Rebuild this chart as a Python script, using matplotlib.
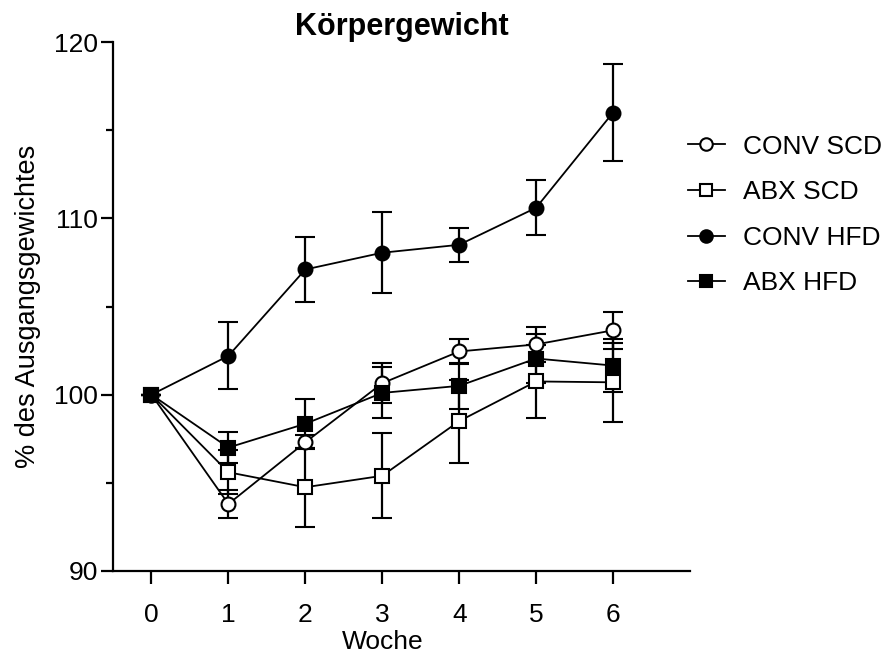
import numpy as np
import matplotlib
matplotlib.use('Agg')
import matplotlib.pyplot as plt
from matplotlib.lines import Line2D

plt.rcParams['font.family'] = ['Liberation Sans', 'DejaVu Sans']

weeks = [0, 1, 2, 3, 4, 5, 6]

conv_scd = [100, 93.8, 97.3, 100.65, 102.45, 102.85, 103.65]
conv_scd_err = [0, 0.8, 0.4, 1.15, 0.7, 1.0, 1.05]
abx_scd = [100, 95.6, 94.75, 95.4, 98.5, 100.75, 100.7]
abx_scd_err = [0, 1.25, 2.25, 2.4, 2.35, 2.05, 2.25]
conv_hfd = [100, 102.2, 107.1, 108.05, 108.5, 110.6, 116.0]
conv_hfd_err = [0, 1.9, 1.85, 2.3, 0.95, 1.55, 2.75]
abx_hfd = [100, 97.0, 98.35, 100.1, 100.5, 102.05, 101.65]
abx_hfd_err = [0, 0.9, 1.4, 1.45, 1.3, 1.4, 1.5]

labels = ['CONV SCD', 'ABX SCD', 'CONV HFD', 'ABX HFD']

fig = plt.figure(figsize=(8.87, 6.57), dpi=100)
ax = fig.add_axes([113/887, 1 - 571/657, (690-113)/887, (571-42)/657])

series = [
    (conv_scd, conv_scd_err, 'o', 'white'),
    (abx_scd, abx_scd_err, 's', 'white'),
    (conv_hfd, conv_hfd_err, 'o', 'black'),
    (abx_hfd, abx_hfd_err, 's', 'black'),
]

handles = []
for (vals, err, m, fc), lab in zip(series, labels):
    ax.errorbar(weeks, vals, yerr=err, color='black', lw=1.3, marker=m,
                markersize=10, markerfacecolor=fc, markeredgecolor='black',
                markeredgewidth=1.5, elinewidth=1.6, capsize=7, capthick=1.6)
    handles.append(Line2D([], [], color='black', lw=1.3, marker=m,
                          markersize=9, markerfacecolor=fc,
                          markeredgecolor='black', markeredgewidth=1.5,
                          label=lab))

ax.set_xlim(-0.5, 7)
ax.set_ylim(90, 120)
ax.set_xticks(weeks)
ax.set_yticks([90, 100, 110, 120])
ax.set_yticks([95, 105, 115], minor=True)
ax.spines['top'].set_visible(False)
ax.spines['right'].set_visible(False)
for s in ['left', 'bottom']:
    ax.spines[s].set_linewidth(1.6)
ax.tick_params(axis='both', which='major', length=9, width=1.6, labelsize=19)
ax.tick_params(axis='y', which='major', pad=2)
ax.tick_params(axis='x', which='major', pad=14)
ax.tick_params(axis='y', which='minor', length=5, width=1.6)

ax.set_title('Körpergewicht', fontsize=22, fontweight='bold', pad=3)
ax.set_xlabel('Woche', fontsize=19)
ax.xaxis.set_label_coords(3.5/7.5, -0.112)
ax.set_ylabel('% des Ausgangsgewichtes', fontsize=19.5, labelpad=9)

ax.legend(handles=handles, loc='upper left', bbox_to_anchor=(0.955, 0.87),
          frameon=False, fontsize=19, handlelength=1.4, handletextpad=0.7,
          labelspacing=0.82)

fig.savefig('out.png', dpi=100)
